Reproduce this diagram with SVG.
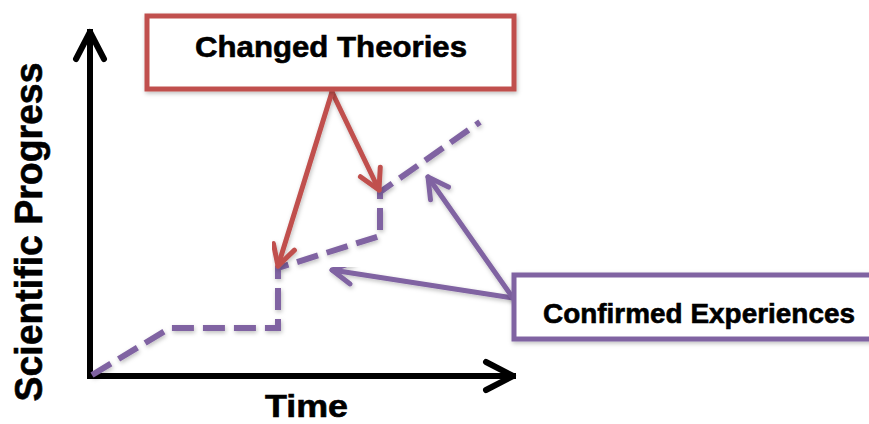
<svg xmlns="http://www.w3.org/2000/svg" width="869" height="424" viewBox="0 0 869 424">
  <defs>
    <style>
      .lbl { font-family: "Liberation Sans", Arial, sans-serif; font-weight: bold; fill: #000; stroke: #000; stroke-width: 0.6; text-anchor: middle; }
      .box { fill: #fff; stroke-width: 5; }
      .red { stroke: #c0504d; }
      .purple { stroke: #8064a2; }
      .conn { fill: none; stroke-width: 5; stroke-linecap: round; stroke-linejoin: round; }
      .axis { fill: none; stroke: #000; stroke-width: 6; stroke-linecap: square; }
    </style>
    <filter id="sh" x="-10%" y="-10%" width="130%" height="140%">
      <feDropShadow dx="1" dy="2" stdDeviation="2" flood-color="#000" flood-opacity="0.25"/>
    </filter>
    <marker id="mRed" markerUnits="userSpaceOnUse" viewBox="-26 -16 30 32" markerWidth="30" markerHeight="32" refX="0" refY="0" orient="auto" overflow="visible">
      <path d="M-20,-11 L0,0 L-20,11" fill="none" stroke="#c0504d" stroke-width="5" stroke-linecap="round" stroke-linejoin="round"/>
    </marker>
    <marker id="mPurple" markerUnits="userSpaceOnUse" viewBox="-26 -16 30 32" markerWidth="30" markerHeight="32" refX="0" refY="0" orient="auto" overflow="visible">
      <path d="M-20,-11 L0,0 L-20,11" fill="none" stroke="#8064a2" stroke-width="5" stroke-linecap="round" stroke-linejoin="round"/>
    </marker>
    <marker id="mBlack" markerUnits="userSpaceOnUse" viewBox="-32 -18 36 36" markerWidth="36" markerHeight="36" refX="0" refY="0" orient="auto" overflow="visible">
      <path d="M-27,-14 L0,0 L-27,14" fill="none" stroke="#000" stroke-width="6" stroke-linecap="round" stroke-linejoin="round"/>
    </marker>
  </defs>
  <rect width="869" height="424" fill="#fff"/>

  <g id="axes">
    <line class="axis" x1="90" y1="376" x2="90" y2="32" marker-end="url(#mBlack)"/>
    <line class="axis" x1="90" y1="376" x2="513" y2="376" marker-end="url(#mBlack)"/>
  </g>

  <g id="progress-line">
    <polyline points="92,375 170,328 278,328 278,268 380,236 380,192 480,122" fill="none" stroke="#8064a2" stroke-width="6" stroke-dasharray="22 9" stroke-linejoin="miter" filter="url(#sh)"/>
  </g>

  <g id="connectors">
    <line class="conn red" x1="332" y1="92" x2="379" y2="190" marker-end="url(#mRed)" filter="url(#sh)"/>
    <line class="conn red" x1="332" y1="92" x2="278" y2="266" marker-end="url(#mRed)" filter="url(#sh)"/>
    <line class="conn purple" x1="513" y1="298" x2="332" y2="270" marker-end="url(#mPurple)" filter="url(#sh)"/>
    <line class="conn purple" x1="513" y1="298" x2="428" y2="177" marker-end="url(#mPurple)" filter="url(#sh)"/>
  </g>

  <g id="changed-theories">
    <rect class="box red" x="147" y="16" width="367" height="73" filter="url(#sh)"/>
    <text class="lbl" x="331" y="57" font-size="30" textLength="272" lengthAdjust="spacingAndGlyphs">Changed Theories</text>
  </g>

  <g id="confirmed-experiences">
    <rect class="box purple" x="514" y="275" width="370" height="64" filter="url(#sh)"/>
    <text class="lbl" x="699" y="323" font-size="28" textLength="312" lengthAdjust="spacingAndGlyphs">Confirmed Experiences</text>
  </g>

  <g id="x-label">
    <text class="lbl" x="306.5" y="417" font-size="32" textLength="83" lengthAdjust="spacingAndGlyphs">Time</text>
  </g>

  <g id="y-label">
    <text class="lbl" transform="translate(42,232) rotate(-90)" x="0" y="0" font-size="38" textLength="339" lengthAdjust="spacingAndGlyphs">Scientific Progress</text>
  </g>
</svg>
